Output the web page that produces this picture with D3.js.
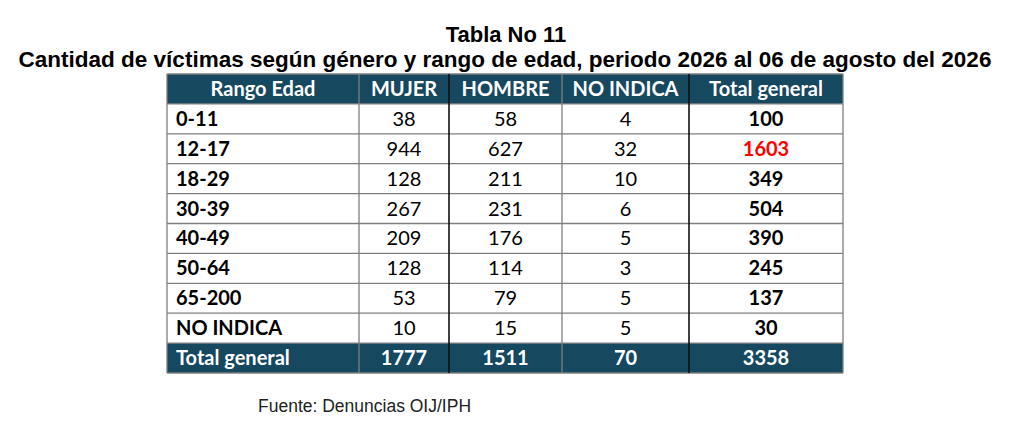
<!DOCTYPE html>
<html>
<head>
<meta charset="utf-8">
<script src="https://cdn.jsdelivr.net/npm/d3@7.9.0/dist/d3.min.js"></script>
<style>
  body { margin: 0; background: #fff; }
  svg { display: block; }
</style>
</head>
<body>
<svg id="chart" width="1024" height="431"></svg>
<script>
// Table data
const columns = ['Rango Edad', 'MUJER', 'HOMBRE', 'NO INDICA', 'Total general'];
const ranges = ['0-11', '12-17', '18-29', '30-39', '40-49', '50-64', '65-200', 'NO INDICA'];
const mujer = [38, 944, 128, 267, 209, 128, 53, 10];
const hombre = [58, 627, 211, 231, 176, 114, 79, 15];
const noIndica = [4, 32, 10, 6, 5, 3, 5, 5];
const totals = [100, 1603, 349, 504, 390, 245, 137, 30];
const totalRow = ['Total general', 1777, 1511, 70, 3358];

const title1 = 'Tabla No 11';
const title2 = 'Cantidad de víctimas según género y rango de edad, periodo 2026 al 06 de agosto del 2026';
const source = 'Fuente: Denuncias OIJ/IPH';

const headerColor = '#164860';
const gridColor = '#7f7f7f';
const tableFont = 'Lato, "Open Sans", sans-serif';
const fontSize = '20px';

const svg = d3.select('#chart');

// column widths -> edges
const colWidths = [192, 90, 113, 127, 154];
const tableLeft = 167;
let edges = [tableLeft];
colWidths.forEach(w => edges.push(edges[edges.length - 1] + w));
const tableRight = edges[edges.length - 1];

// rows: header + data rows + total row
const rowKeys = ['header', ...ranges, 'total'];
const y = d3.scaleBand().domain(rowKeys).range([74, 373]).paddingInner(0).paddingOuter(0);

// title
svg.append('text')
  .attr('x', 506).attr('y', 42)
  .attr('text-anchor', 'middle')
  .style('font-family', '"Liberation Sans", Arial, sans-serif')
  .style('font-weight', 'bold')
  .style('font-size', '22px')
  .text(title1);

svg.append('text')
  .attr('x', 505).attr('y', 67)
  .attr('text-anchor', 'middle')
  .style('font-family', '"Liberation Sans", Arial, sans-serif')
  .style('font-weight', 'bold')
  .style('font-size', '22.5px')
  .text(title2);

// header and total backgrounds
['header', 'total'].forEach(k => {
  svg.append('rect')
    .attr('x', tableLeft).attr('y', y(k))
    .attr('width', tableRight - tableLeft).attr('height', y.bandwidth())
    .attr('fill', headerColor);
});

// build rows
let rows = ranges.map((r, i) => [r, mujer[i], hombre[i], noIndica[i], totals[i]]);

function cellX(j) {
  return j === 0 ? edges[0] + 9 : (edges[j] + edges[j + 1]) / 2;
}

// header text
svg.selectAll('.head')
  .data(columns)
  .join('text')
  .attr('x', (d, j) => (edges[j] + edges[j + 1]) / 2)
  .attr('y', y('header') + y.bandwidth() / 2 + 7)
  .attr('text-anchor', 'middle')
  .attr('fill', '#fff')
  .style('font-family', tableFont)
  .style('font-weight', 'bold')
  .style('font-size', fontSize)
  .text(d => d);

// body text
rows.forEach((row, i) => {
  svg.selectAll(null)
    .data(row)
    .join('text')
    .attr('x', (d, j) => cellX(j))
    .attr('y', y(ranges[i]) + y.bandwidth() / 2 + 7)
    .attr('text-anchor', (d, j) => j === 0 ? 'start' : 'middle')
    .attr('fill', (d, j) => (j === 4 && d === 1603) ? '#ff0000' : '#000')
    .style('font-family', tableFont)
    .style('font-weight', (d, j) => (j === 0 || j === 4) ? 'bold' : 'normal')
    .style('font-size', fontSize)
    .text(d => d);
});

// total row text
svg.selectAll('.tot')
  .data(totalRow)
  .join('text')
  .attr('x', (d, j) => cellX(j))
  .attr('y', y('total') + y.bandwidth() / 2 + 7)
  .attr('text-anchor', (d, j) => j === 0 ? 'start' : 'middle')
  .attr('fill', '#fff')
  .style('font-family', tableFont)
  .style('font-weight', 'bold')
  .style('font-size', fontSize)
  .text(d => d);

// horizontal grid lines
rowKeys.forEach(k => {
  svg.append('line')
    .attr('x1', tableLeft).attr('x2', tableRight)
    .attr('y1', y(k)).attr('y2', y(k))
    .attr('stroke', gridColor).attr('stroke-width', 1.3);
});
svg.append('line')
  .attr('x1', tableLeft).attr('x2', tableRight)
  .attr('y1', 373).attr('y2', 373)
  .attr('stroke', gridColor).attr('stroke-width', 1.3);

// vertical lines; darker after MUJER and NO INDICA
edges.forEach((ex, j) => {
  const dark = j === 2 || j === 4;
  svg.append('line')
    .attr('x1', ex).attr('x2', ex)
    .attr('y1', 74).attr('y2', 373)
    .attr('stroke', dark ? '#111' : gridColor)
    .attr('stroke-width', dark ? 1.6 : 1.3);
});

// source note
svg.append('text')
  .attr('x', 258).attr('y', 412)
  .style('font-family', '"Liberation Sans", Arial, sans-serif')
  .style('font-size', '17.5px')
  .attr('fill', '#222')
  .text(source);
</script>
</body>
</html>
